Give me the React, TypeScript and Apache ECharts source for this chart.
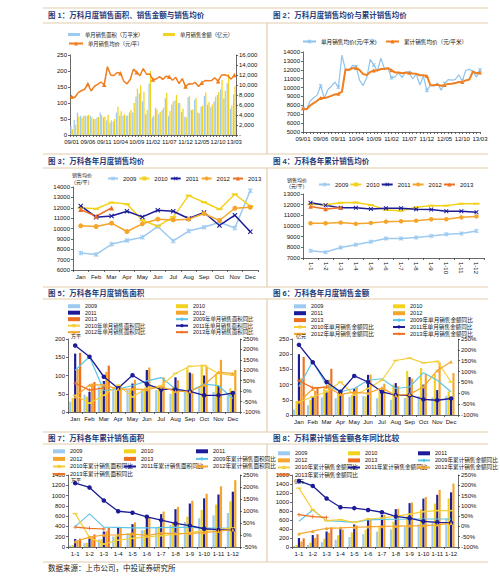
import React, { useEffect, useRef } from "react";
import * as echarts from "echarts";

const W = 500;
const H = 581;
const NUM = "'Liberation Sans', Arial, sans-serif";
const CJK = "'Liberation Sans', 'Noto Sans CJK SC', sans-serif";

// ---------- categories ----------
const months = ["Jan", "Feb", "Mar", "Apr", "May", "Jun", "Jul", "Aug", "Sep", "Oct", "Nov", "Dec"];
const cumMonths = ["1-1", "1-2", "1-3", "1-4", "1-5", "1-6", "1-7", "1-8", "1-9", "1-10", "1-11", "1-12"];
const monthlyCats = [
  "09/01", "09/02", "09/03", "09/04", "09/05", "09/06", "09/07", "09/08", "09/09", "09/10", "09/11", "09/12",
  "10/01", "10/02", "10/03", "10/04", "10/05", "10/06", "10/07", "10/08", "10/09", "10/10", "10/11", "10/12",
  "11/01", "11/02", "11/03", "11/04", "11/05", "11/06", "11/07", "11/08", "11/09", "11/10", "11/11", "11/12",
  "12/01", "12/02", "12/03", "12/04", "12/05", "12/06", "12/07", "12/08", "12/09", "12/10", "12/11", "12/12",
  "13/01", "13/02", "13/03",
];

// ---------- monthly price (元/平) ----------
const price2009 = [7650, 7500, 8480, 8850, 9150, 10200, 8800, 9750, 10120, 10600, 10050, 13650];
const price2010 = [12000, 11900, 12500, 12350, 10800, 10220, 11100, 13170, 12530, 11860, 13300, 12150];
const price2011 = [12180, 11090, 11200, 11660, 11120, 11760, 11660, 10960, 11540, 10290, 11280, 9680];
const price2012 = [10260, 10190, 10510, 9710, 10450, 10900, 10830, 10900, 11440, 10770, 11950, 12050];
const price2013 = [11820, 11180, 11980];

// ---------- cumulative price ----------
const cumP2009 = [7670, 7550, 7980, 8250, 8520, 8830, 8830, 8920, 9070, 9230, 9290, 9530];
const cumP2010 = [12030, 12000, 12180, 12210, 11970, 11510, 11420, 11760, 11910, 11910, 12090, 12090];
const cumP2011 = [12180, 11940, 11700, 11700, 11600, 11660, 11660, 11570, 11540, 11390, 11390, 11300];
const cumP2012 = [10260, 10260, 10320, 10200, 10290, 10410, 10440, 10500, 10630, 10630, 10810, 10900];
const cumP2013 = [11820, 11600, 11700];

// ---------- monthly area (万平) ----------
const area2009 = [28, 47, 70, 60, 60, 60, 60, 50, 55, 70, 55, 46];
const area2010 = [38, 42, 70, 60, 60, 60, 70, 70, 120, 130, 105, 65];
const area2011 = [160, 55, 85, 65, 78, 115, 60, 95, 108, 100, 72, 57];
const area2012 = [118, 78, 110, 70, 88, 122, 95, 87, 105, 125, 143, 115];
const area2013 = [162, 82, 127];

// ---------- monthly amount (亿元) ----------
const amt2009 = [18, 32, 58, 55, 60, 63, 55, 50, 56, 62, 58, 63];
const amt2010 = [46, 50, 88, 74, 65, 61, 78, 100, 145, 155, 135, 78];
const amt2011 = [200, 60, 80, 72, 86, 132, 75, 105, 125, 100, 82, 55];
const amt2012 = [121, 80, 116, 68, 92, 133, 103, 95, 120, 135, 172, 138];
const amt2013 = [191, 92, 152];

// ---------- monthly area YoY (%) ----------
const yoyA2009 = [100, 165, 3, 11, 26, 49, 65, 11, -1, 34, 26, -35];
const yoyA2010 = [-20, -58, -20, 29, -28, 14, 26, 85, 119, 123, 85, 76];
const yoyA2011 = [219, 165, 69, 14, 76, 34, 8, 8, -1, -20, -20, -9];
const yoyA2012 = [-27, 30, 30, 10, 10, 8, 20, 0, -2, 30, 90, 85];
const yoyA2013 = [38, 5, 15];

// ---------- monthly amount YoY (%) ----------
const yoyM2009 = [30, 147, 37, 7, 22, 60, 67, 22, 29, 95, 60, 7];
const yoyM2010 = [-40, -16, 7, 52, -9, 22, 60, 151, 162, 140, 147, 52];
const yoyM2011 = [223, 143, 52, 7, 80, 52, 7, -9, -9, -28, -32, -24];
const yoyM2012 = [-40, 20, 30, -5, 5, 0, 25, -10, -5, 30, 105, 145];
const yoyM2013 = [58, 25, 28];

// ---------- cumulative area ----------
const cumA2009 = [28, 75, 145, 205, 265, 325, 385, 435, 490, 560, 615, 661];
const cumA2010 = [40, 80, 150, 210, 270, 330, 400, 470, 590, 720, 825, 890];
const cumA2011 = [155, 210, 300, 370, 445, 590, 640, 735, 845, 945, 1020, 1075];
const cumA2012 = [118, 196, 306, 376, 480, 580, 690, 780, 900, 1035, 1180, 1300];
const cumA2013 = [162, 244, 371];

const yoyCA2009 = [35, 88, 33, 32, 30, 30, 31, 32, 32, 30, 29, 28];
const yoyCA2010 = [89, -10, -38, -22, -14, -8, -3, 3, 10, 18, 24, 30];
const yoyCA2011 = [216, 198, 144, 99, 93, 76, 62, 48, 39, 26, 22, 21];
const yoyCA2012 = [-27, -9, 0, 0, 5, -2, 8, 6, 7, 10, 16, 22];
const yoyCA2013 = [33, 28, 25];

// ---------- cumulative amount ----------
const cumM2009 = [18, 50, 108, 163, 223, 286, 341, 391, 447, 509, 567, 630];
const cumM2010 = [46, 96, 184, 258, 323, 384, 462, 560, 690, 835, 965, 1080];
const cumM2011 = [200, 265, 345, 415, 500, 635, 710, 840, 975, 1075, 1160, 1215];
const cumM2012 = [121, 201, 317, 385, 480, 615, 720, 850, 990, 1110, 1270, 1410];
const cumM2013 = [191, 283, 435];

const yoyCM2009 = [25, 80, 28, 25, 20, 32, 34, 35, 36, 36, 36, 36];
const yoyCM2010 = [186, 81, 28, 33, 20, 36, 41, 49, 60, 72, 77, 77];
const yoyCM2011 = [221, 197, 136, 93, 89, 80, 69, 49, 40, 25, 20, 17];
const yoyCM2012 = [-36, -23, -9, -7, -4, -2, 0, 1, 3, 4, 8, 16];
const yoyCM2013 = [57, 48, 44];

// ---------- colours & symbols ----------
const C_LB = "#9dcaf0";
const C_Y = "#f3d21e";
const C_DB = "#1c1c98";
const C_OR = "#f5a52b";
const C_RD = "#ee6f22";
const C_CY = "#5ec6e6";
const C_PRICE = "#f07d1e";
const C_LINE = "#e3cbab";
const C_TITLE = "#1f3a78";

const XSYM = "path://M0,1.5L1.5,0L5,3.5L8.5,0L10,1.5L6.5,5L10,8.5L8.5,10L5,6.5L1.5,10L0,8.5L3.5,5Z";
const STAR = "path://M0,1.5L1.5,0L5,3.5L8.5,0L10,1.5L6.5,5L10,8.5L8.5,10L5,6.5L1.5,10L0,8.5L3.5,5Z M4.2,0L5.8,0L5.8,10L4.2,10Z";
const DASH = "path://M0,0L10,0L10,3L0,3Z";
const PLUS = "path://M4,0L6,0L6,4L10,4L10,6L6,6L6,10L4,10L4,6L0,6L0,4L4,4Z";

// ---------- helpers ----------
const axisLine = { show: true, lineStyle: { color: "#444", width: 0.8 } };
const axisTick = { show: true, length: 2, lineStyle: { color: "#444", width: 0.8 } };
function lbl(extra: any = {}) {
  return { fontSize: 6, color: "#111", fontFamily: NUM, margin: 3, ...extra };
}
function catAxis(data: string[], extra: any = {}, label: any = {}) {
  return {
    type: "category",
    data,
    axisLine,
    axisTick: { ...axisTick, interval: 0 },
    axisLabel: lbl({ margin: 4, interval: 0, ...label }),
    splitLine: { show: false },
    ...extra,
  };
}
const plain = (v: number) => String(v);
function valAxis(min: number, max: number, interval: number, extra: any = {}, label: any = {}) {
  return {
    type: "value",
    min,
    max,
    interval,
    axisLine,
    axisTick,
    axisLabel: lbl({ formatter: plain, ...label }),
    splitLine: { show: false },
    ...extra,
  };
}
function legend(left: number, top: number, data: any[], o: any = {}) {
  return {
    left,
    top,
    orient: o.orient || "vertical",
    itemWidth: o.iw ?? 12,
    itemHeight: o.ih ?? 4,
    itemGap: o.gap ?? 1,
    padding: 0,
    selectedMode: false,
    textStyle: {
      fontSize: o.fs ?? 5.5,
      fontFamily: CJK,
      color: "#111",
      lineHeight: o.lh ?? 5,
      padding: 0,
    },
    data,
  };
}
const r = (name: string) => ({ name, icon: "rect" });
function bar(name: string, data: number[], color: string, extra: any = {}) {
  return {
    type: "bar",
    name,
    data,
    itemStyle: { color },
    barGap: "12%",
    barCategoryGap: "16%",
    ...extra,
  };
}
function line(name: string, data: number[], color: string, symbol: string, size: any, width = 1.2, extra: any = {}) {
  return {
    type: "line",
    name,
    data,
    symbol,
    symbolSize: size,
    showSymbol: symbol !== "none",
    lineStyle: { color, width },
    itemStyle: { color },
    z: 3,
    ...extra,
  };
}
function gtext(x: number, y: number, text: string, o: any = {}) {
  return {
    type: "text",
    x,
    y,
    z: 10,
    style: {
      text,
      fontSize: o.fs ?? 5,
      fontFamily: o.ff ?? CJK,
      fontWeight: o.fw ?? "normal",
      fill: o.fill ?? "#111",
      align: "left",
      verticalAlign: "middle",
      textAlign: "left",
      textVerticalAlign: "middle",
    },
  };
}
function gline(x1: number, y1: number, x2: number, y2: number) {
  return { type: "line", shape: { x1, y1, x2, y2 }, style: { stroke: C_LINE, lineWidth: 1.2 } };
}

// ---------- background (frames, titles, source) ----------
const hLines = [8, 23, 154, 168, 287, 299, 432, 444, 562];
const vSegs = [
  [23, 154],
  [168, 287],
  [299, 432],
  [444, 562],
];
const titles = [
  { x: 48, y: 15.5, t: "图 1：万科月度销售面积、销售金额与销售均价" },
  { x: 273, y: 15.5, t: "图 2：万科月度销售均价与累计销售均价" },
  { x: 48, y: 161, t: "图 3：万科各年月度销售均价" },
  { x: 273, y: 161, t: "图 4：万科各年累计销售均价" },
  { x: 48, y: 293, t: "图 5：万科各年月度销售面积" },
  { x: 273, y: 293, t: "图 6：万科各年月度销售金额" },
  { x: 48, y: 438, t: "图 7：万科各年累计销售面积" },
  { x: 273, y: 438, t: "图 8：万科累计销售金额各年同比比较" },
];
const bgOption = {
  animation: false,
  graphic: [
    ...hLines.map((y) => gline(43, y, 488, y)),
    ...vSegs.map(([a, b]) => gline(267, a, 267, b)),
    ...titles.map((t) => gtext(t.x, t.y, t.t, { fs: 7.5, fw: "bold", fill: C_TITLE })),
    gtext(48, 568, "数据来源：上市公司，中投证券研究所", { fs: 7.5, fill: "#222" }),
  ],
};

// ---------- panel 1 ----------
const areaMonthly = [...area2009, ...area2010, ...area2011, ...area2012, ...area2013];
const amtMonthly = [...amt2009, ...amt2010, ...amt2011, ...amt2012, ...amt2013];
const priceMonthly = [...price2009, ...price2010, ...price2011, ...price2012, ...price2013];
const cumPriceMonthly = [...cumP2009, ...cumP2010, ...cumP2011, ...cumP2012, ...cumP2013];

const p1 = {
  animation: false,
  legend: [
    legend(68, 31.5, [r("单月销售面积（万平米）")], { ih: 3, fs: 5.3, lh: 6 }),
    legend(163, 31.5, [r("单月销售金额（亿元）")], { ih: 3, fs: 5.3, lh: 6 }),
    legend(68, 40.5, ["单月销售均价（元/平）"], { iw: 14, ih: 5, fs: 5.3, lh: 6 }),
  ],
  grid: { left: 70, top: 55, width: 166, height: 80 },
  xAxis: catAxis(monthlyCats, {}, { interval: 4 }),
  yAxis: [
    valAxis(0, 250, 50),
    valAxis(0, 16000, 2000, { position: "right" }, {
      formatter: (v: number) => (v === 0 ? "-" : v / 1000 + ",000"),
    }),
  ],
  series: [
    bar("单月销售面积（万平米）", areaMonthly, C_LB, { barGap: "10%", barCategoryGap: "18%" }),
    bar("单月销售金额（亿元）", amtMonthly, C_Y, { barGap: "10%", barCategoryGap: "18%" }),
    line("单月销售均价（元/平）", priceMonthly, C_PRICE, "triangle", 4.5, 1.5, { yAxisIndex: 1 }),
  ],
};

// ---------- panel 2 ----------
const p2 = {
  animation: false,
  legend: [
    legend(302, 38.5, ["单月销售均价(元/平米)"], { iw: 13, ih: 5, fs: 5.6, lh: 6 }),
    legend(385, 38.5, ["累计销售均价（元/平米）"], { iw: 13, ih: 5, fs: 5.6, lh: 6 }),
  ],
  grid: { left: 303, top: 52, width: 177, height: 80 },
  xAxis: catAxis(monthlyCats, { boundaryGap: false }, { interval: 4 }),
  yAxis: valAxis(5000, 14000, 1000),
  series: [
    line("单月销售均价(元/平米)", priceMonthly, "#8fc4ee", STAR, 4, 1.2),
    line("累计销售均价（元/平米）", cumPriceMonthly, C_PRICE, "triangle", 4, 2),
  ],
};

// ---------- panel 3 ----------
const yearLegend = ["2009", "2010", "2011", "2012", "2013"];
const p3 = {
  animation: false,
  legend: legend(107, 175.5, yearLegend, { orient: "horizontal", iw: 10, ih: 5, gap: 2, fs: 6, lh: 6 }),
  grid: { left: 73, top: 187, width: 185, height: 83 },
  xAxis: catAxis(months),
  yAxis: valAxis(6000, 14000, 1000),
  graphic: [gtext(72, 175, "销售均价"), gtext(71, 182, "（元/平）")],
  series: [
    line("2009", price2009, C_LB, STAR, 5, 1.5),
    line("2010", price2010, C_Y, DASH, [6, 2], 1.5),
    line("2011", price2011, C_DB, XSYM, 5, 1.5),
    line("2012", price2012, C_OR, "circle", 5, 1.5),
    line("2013", price2013, C_RD, "triangle", 5, 1.5),
  ],
};

// ---------- panel 4 ----------
const p4 = {
  animation: false,
  legend: legend(318, 181.5, yearLegend, { orient: "horizontal", iw: 11, ih: 5, gap: 1, fs: 6, lh: 6 }),
  grid: { left: 303, top: 194, width: 181, height: 64 },
  xAxis: catAxis(cumMonths, {}, { rotate: -90, margin: 4 }),
  yAxis: valAxis(7000, 13000, 1000),
  graphic: [gtext(287, 179.5, "销售均价"), gtext(286, 186, "（元/平）")],
  series: [
    line("2009", cumP2009, C_LB, STAR, 4.5, 1.5),
    line("2010", cumP2010, C_Y, DASH, [6, 2], 1.5),
    line("2011", cumP2011, C_DB, XSYM, 4.5, 1.5),
    line("2012", cumP2012, C_OR, "circle", 4.5, 1.5),
    line("2013", cumP2013, C_RD, "triangle", 4.5, 1.5),
  ],
};

// ---------- panel 5 ----------
const pct = { formatter: "{value}%" };
const p5 = {
  animation: false,
  legend: [
    legend(67, 303.5, [r("2009"), r("2011"), r("2013"), "2010年单月销售面积同比", "2012年单月销售面积同比"], { gap: 1.1, lh: 4, fs: 5.4 }),
    legend(175, 303.5, [r("2010"), r("2012"), "2009年单月销售面积同比", "2011年单月销售面积同比", "2013年单月销售面积同比"], { gap: 1.1, lh: 4, fs: 5.4 }),
  ],
  grid: { left: 68, top: 339, width: 172, height: 73 },
  xAxis: catAxis(months),
  yAxis: [valAxis(0, 200, 50), valAxis(-100, 250, 50, { position: "right" }, pct)],
  graphic: [gtext(71, 336, "万平")],
  series: [
    bar("2009", area2009, C_LB),
    bar("2010", area2010, C_Y),
    bar("2011", area2011, C_DB),
    bar("2012", area2012, C_OR),
    bar("2013", area2013, C_RD),
    line("2009年单月销售面积同比", yoyA2009, C_CY, "none", 0, 1.2, { yAxisIndex: 1 }),
    line("2010年单月销售面积同比", yoyA2010, "#f5cf3a", DASH, [5, 1.5], 1.2, { yAxisIndex: 1 }),
    line("2011年单月销售面积同比", yoyA2011, C_DB, "circle", 4.5, 1.3, { yAxisIndex: 1 }),
    line("2012年单月销售面积同比", yoyA2012, C_OR, "triangle", 3.5, 1.2, { yAxisIndex: 1 }),
    line("2013年单月销售面积同比", yoyA2013, C_RD, PLUS, 4, 1.2, { yAxisIndex: 1 }),
  ],
};

// ---------- panel 6 ----------
const p6 = {
  animation: false,
  legend: [
    legend(293, 303.5, [r("2009"), r("2011"), r("2013"), "2010年单月销售金额同比", "2012年单月销售金额同比"], { gap: 1.3, lh: 4, fs: 5.6 }),
    legend(392, 303.5, [r("2010"), r("2012"), "2009年单月销售金额同比", "2011年单月销售金额同比", "2013年单月销售金额同比"], { gap: 1.3, lh: 4, fs: 5.6 }),
  ],
  grid: { left: 292, top: 339, width: 166, height: 76 },
  xAxis: catAxis(months),
  yAxis: [valAxis(0, 250, 50), valAxis(-100, 250, 50, { position: "right" }, pct)],
  graphic: [gtext(296, 336, "亿元")],
  series: [
    bar("2009", amt2009, C_LB),
    bar("2010", amt2010, C_Y),
    bar("2011", amt2011, C_DB),
    bar("2012", amt2012, C_OR),
    bar("2013", amt2013, C_RD),
    line("2009年单月销售金额同比", yoyM2009, C_CY, "none", 0, 1.2, { yAxisIndex: 1 }),
    line("2010年单月销售金额同比", yoyM2010, "#f5cf3a", DASH, [5, 1.5], 1.2, { yAxisIndex: 1 }),
    line("2011年单月销售金额同比", yoyM2011, C_DB, "circle", 4.5, 1.3, { yAxisIndex: 1 }),
    line("2012年单月销售金额同比", yoyM2012, C_OR, "triangle", 3.5, 1.2, { yAxisIndex: 1 }),
    line("2013年单月销售金额同比", yoyM2013, C_RD, PLUS, 4, 1.2, { yAxisIndex: 1 }),
  ],
};

// ---------- panel 7 ----------
const p7 = {
  animation: false,
  legend: [
    legend(52, 448.5, [r("2009"), r("2012"), "2010年累计销售面积同比", "2013年累计销售面积同比"], { gap: 2, lh: 4, fs: 5.6 }),
    legend(123, 448.5, [r("2010"), r("2013"), "2011年累计销售面积同比"], { gap: 2, lh: 4, fs: 5.6 }),
    legend(195, 448.5, [r("2011"), "2009年累计销售面积同比", "2012年累计销售面积同比"], { gap: 2, lh: 4, fs: 5.6 }),
  ],
  grid: { left: 68, top: 475, width: 172, height: 72 },
  xAxis: catAxis(cumMonths),
  yAxis: [valAxis(0, 1400, 200), valAxis(-50, 250, 50, { position: "right" }, pct)],
  graphic: [gtext(71, 479.5, "万平")],
  series: [
    bar("2009", cumA2009, C_LB),
    bar("2010", cumA2010, C_Y),
    bar("2011", cumA2011, C_DB),
    bar("2012", cumA2012, C_OR),
    bar("2013", cumA2013, C_RD),
    line("2009年累计销售面积同比", yoyCA2009, C_CY, "none", 0, 1.2, { yAxisIndex: 1 }),
    line("2010年累计销售面积同比", yoyCA2010, "#f5cf3a", DASH, [5, 1.5], 1.2, { yAxisIndex: 1 }),
    line("2011年累计销售面积同比", yoyCA2011, C_DB, "circle", 4.5, 1.3, { yAxisIndex: 1 }),
    line("2012年累计销售面积同比", yoyCA2012, C_OR, "triangle", 3.5, 1.2, { yAxisIndex: 1 }),
    line("2013年累计销售面积同比", yoyCA2013, C_RD, PLUS, 4, 1.2, { yAxisIndex: 1 }),
  ],
};

// ---------- panel 8 ----------
const p8 = {
  animation: false,
  legend: [
    legend(277, 450.5, [r("2009"), r("2012"), "2010年累计销售金额同比", "2013年累计销售金额同比"], { gap: 1.5, lh: 4, fs: 5.6 }),
    legend(347, 450.5, [r("2010"), r("2013"), "2011年累计销售金额同比"], { gap: 1.5, lh: 4, fs: 5.6 }),
    legend(417, 450.5, [r("2011"), "2009年累计销售金额同比", "2012年累计销售金额同比"], { gap: 1.5, lh: 4, fs: 5.6 }),
  ],
  grid: { left: 292, top: 475, width: 166, height: 72 },
  xAxis: catAxis(cumMonths),
  yAxis: [valAxis(0, 1600, 200), valAxis(-100, 250, 50, { position: "right" }, pct)],
  graphic: [gtext(294, 481, "亿元")],
  series: [
    bar("2009", cumM2009, C_LB),
    bar("2010", cumM2010, C_Y),
    bar("2011", cumM2011, C_DB),
    bar("2012", cumM2012, C_OR),
    bar("2013", cumM2013, C_RD),
    line("2009年累计销售金额同比", yoyCM2009, C_CY, "none", 0, 1.2, { yAxisIndex: 1 }),
    line("2010年累计销售金额同比", yoyCM2010, "#f5cf3a", DASH, [5, 1.5], 1.2, { yAxisIndex: 1 }),
    line("2011年累计销售金额同比", yoyCM2011, C_DB, "circle", 4.5, 1.3, { yAxisIndex: 1 }),
    line("2012年累计销售金额同比", yoyCM2012, C_OR, "triangle", 3.5, 1.2, { yAxisIndex: 1 }),
    line("2013年累计销售金额同比", yoyCM2013, C_RD, PLUS, 4, 1.2, { yAxisIndex: 1 }),
  ],
};

const allOptions = [bgOption, p1, p2, p3, p4, p5, p6, p7, p8];

function Chart({ option }: { option: any }) {
  const ref = useRef<HTMLDivElement>(null);
  useEffect(() => {
    const c = echarts.init(ref.current as HTMLDivElement, null, { renderer: "svg", width: W, height: H });
    c.setOption(option);
    return () => c.dispose();
  }, [option]);
  return <div ref={ref} style={{ position: "absolute", left: 0, top: 0, width: W, height: H }} />;
}

export default function App() {
  return (
    <div style={{ position: "absolute", left: 0, top: 0, width: W, height: H, background: "#fff", overflow: "hidden" }}>
      {allOptions.map((o, i) => (
        <Chart key={i} option={o} />
      ))}
    </div>
  );
}
